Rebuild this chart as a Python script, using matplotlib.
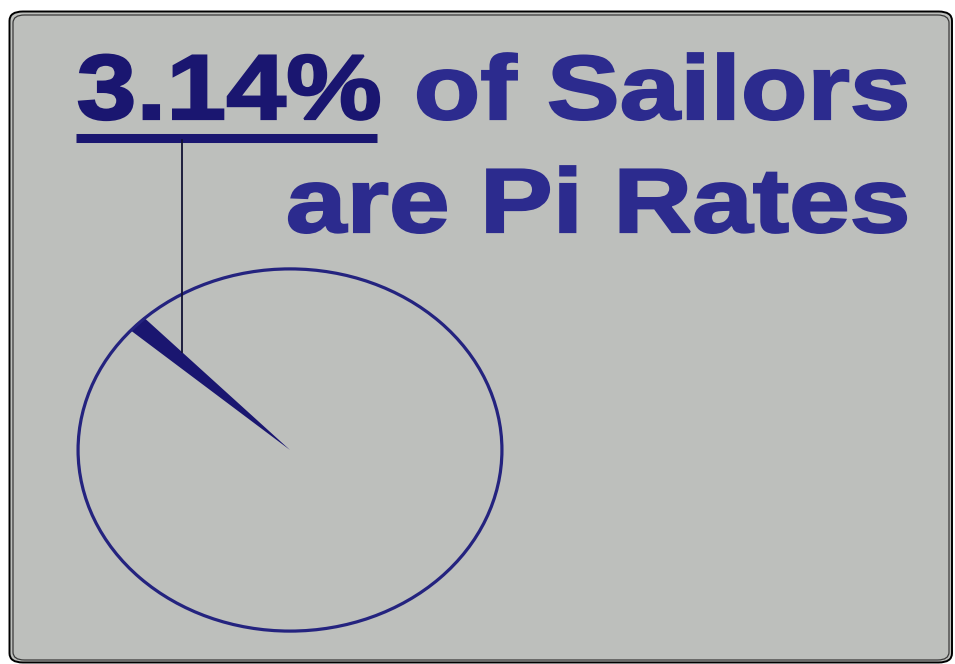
import matplotlib.pyplot as plt
from matplotlib.patches import FancyBboxPatch, PathPatch
from matplotlib.lines import Line2D
from matplotlib.textpath import TextPath
from matplotlib.font_manager import FontProperties
from matplotlib.transforms import Affine2D, IdentityTransform

# data
pct_label = '3.14%'
title_rest = 'of Sailors'
title_line2 = 'are Pi Rates'
slice_share = 1.5      # thin slice as drawn in the picture
rest_share = 100 - slice_share
slice_center_deg = 136

bg = '#bdbfbc'
navy = '#1a1670'
blue = '#2c2b8e'
W, H = 955, 664

fig = plt.figure(figsize=(W / 100, H / 100), dpi=100)
fig.patch.set_facecolor('white')

# rounded panel, double edge
panel = FancyBboxPatch((9.5 / W, 1.5 / H), (952 - 9.5) / W, (652.5 - 1.5) / H,
                       boxstyle='round,pad=0,rounding_size=0.014',
                       transform=fig.transFigure, facecolor=bg,
                       edgecolor='black', linewidth=1.4, zorder=-2)
fig.patches.append(panel)
inner = FancyBboxPatch((13 / W, 4 / H), (949 - 13) / W, (649 - 4) / H,
                       boxstyle='round,pad=0,rounding_size=0.012',
                       transform=fig.transFigure, facecolor=bg,
                       edgecolor='#3a3a3a', linewidth=0.9, zorder=-1)
fig.patches.append(inner)

fp = FontProperties(family='Liberation Sans', weight='bold')


def stretched_text(s, x0, x1, base_y, cap_px, color):
    # heavy, wide title lettering: text path scaled to the given box (pixels)
    em = cap_px / 0.716
    tp = TextPath((0, 0), s, size=em, prop=fp)
    ext = tp.get_extents()
    sx = (x1 - x0 - 2) / ext.width
    tr = Affine2D().translate(-ext.x0, 0).scale(sx, 1).translate(x0 + 1, H - base_y - 1)
    fig.patches.append(PathPatch(tr.transform_path(tp), facecolor=color, edgecolor=color,
                                 linewidth=1.6, transform=IdentityTransform(), zorder=3))


# pie (stretched to an ellipse)
ax = fig.add_axes([77 / W, 32 / H, 426 / W, 364 / H])
start = slice_center_deg - slice_share * 3.6 / 2
wedges, _ = ax.pie([slice_share, rest_share], startangle=start, counterclock=True,
                   colors=[navy, 'none'], wedgeprops=dict(linewidth=0))
ax.set_aspect('auto')
ax.set_xlim(-1.0, 1.0)
ax.set_ylim(-1.0, 1.0)
ax.add_patch(plt.Circle((0, 0), 0.995, fill=False, edgecolor='#24237f', linewidth=2.3,
                        clip_on=False))
ax.axis('off')

# title
stretched_text(pct_label, 78, 380, 118, 66, navy)
stretched_text(title_rest, 417, 907, 118, 65, blue)
stretched_text(title_line2, 288, 907, 231, 65, blue)

# underline and leader line
fig.add_artist(Line2D([76 / W, 377 / W], [1 - 138 / H] * 2, color=navy, linewidth=6.5,
                      transform=fig.transFigure, solid_capstyle='butt'))
fig.add_artist(Line2D([182 / W] * 2, [1 - 140 / H, 1 - 352 / H], color='#111133',
                      linewidth=1.3, transform=fig.transFigure))

fig.savefig('out.png', dpi=100, facecolor=fig.get_facecolor())
